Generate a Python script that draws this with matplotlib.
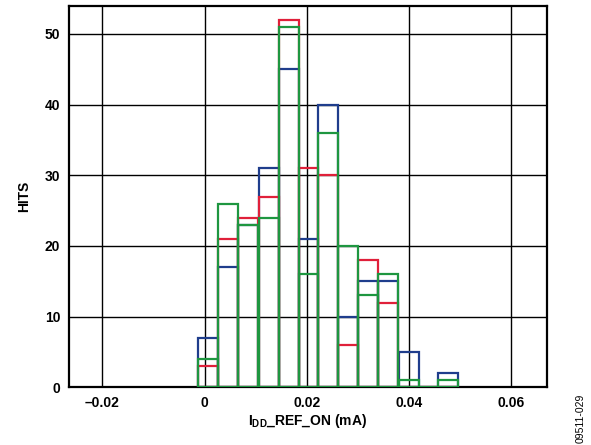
import matplotlib
matplotlib.use("Agg")
import matplotlib.pyplot as plt

# histogram bins (mA): left edges, common width
bin_left = [-0.0012, 0.0027, 0.0066, 0.0106, 0.0145, 0.0184, 0.0223, 0.0262,
            0.0301, 0.0340, 0.0380, 0.0419, 0.0458]
bin_width = 0.0039

blue_hits = [7, 17, 23, 31, 45, 21, 40, 10, 15, 15, 5, 0, 2]
red_hits = [3, 21, 24, 27, 52, 31, 30, 6, 18, 12, 0, 0, 0]
green_hits = [4, 26, 23, 24, 51, 16, 36, 20, 13, 16, 1, 0, 1]

x_ticks = [-0.02, 0, 0.02, 0.04, 0.06]
x_ticklabels = ['\u20130.02', '0', '0.02', '0.04', '0.06']
y_ticks = [0, 10, 20, 30, 40, 50]

plt.rcParams['font.family'] = ['Liberation Sans', 'DejaVu Sans']
plt.rcParams['font.weight'] = 'bold'
plt.rcParams['mathtext.fontset'] = 'custom'
plt.rcParams['mathtext.rm'] = 'Liberation Sans:bold'
plt.rcParams['mathtext.bf'] = 'Liberation Sans:bold'

fig = plt.figure(figsize=(5.91, 4.45), dpi=100)
ax = fig.add_axes([68.7/591, 1-387.3/445, (546.7-68.7)/591, (387.3-5.7)/445])

series = [(blue_hits, '#1f3d8c'), (red_hits, '#e0203a'), (green_hits, '#1e9640')]
for hits, col in series:
    ax.bar(bin_left, hits, width=bin_width, align='edge', fill=False,
           edgecolor=col, linewidth=1.6, zorder=3)

ax.set_xlim(-0.0266, 0.067)
ax.set_ylim(0, 54)
ax.set_xticks(x_ticks)
ax.set_xticklabels(x_ticklabels)
ax.set_yticks(y_ticks)
ax.tick_params(length=0, labelsize=10, pad=6)
for lab in ax.get_xticklabels() + ax.get_yticklabels():
    lab.set_fontweight('bold')
ax.grid(True, color='black', linewidth=1.0)
ax.set_axisbelow(True)
for s in ax.spines.values():
    s.set_linewidth(1.6)

ax.set_ylabel('HITS', fontsize=10, fontweight='bold', labelpad=10)
ax.set_xlabel(r'I$_{\mathrm{DD}}$_REF_ON (mA)', fontsize=10, fontweight='bold', labelpad=2)

fig.text(0.982, 0.005, '09511-029', rotation=90, fontsize=7.5, fontweight='normal',
         ha='center', va='bottom')

fig.savefig('out.png', dpi=100)
